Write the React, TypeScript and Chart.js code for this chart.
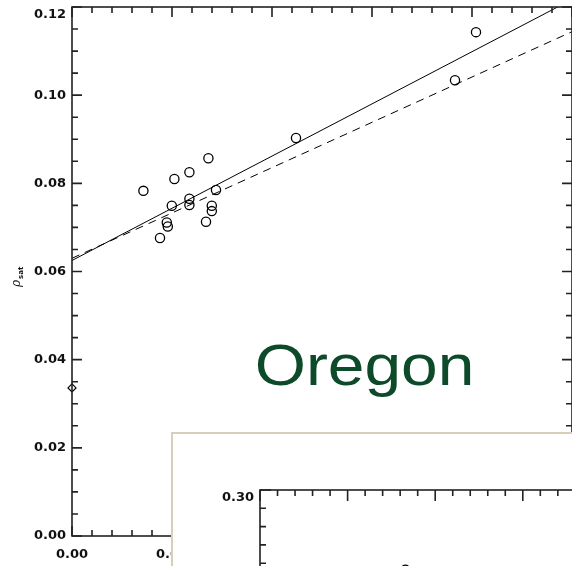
import React, { useEffect, useRef } from 'react';
import { Chart, registerables } from 'chart.js';

Chart.register(...registerables);

// ---- main panel data ----
const obsX = [0.0357, 0.0512, 0.0587, 0.0682, 0.0499, 0.0587, 0.0587, 0.0474, 0.0479, 0.044, 0.072, 0.0699, 0.0699, 0.067, 0.112, 0.1915, 0.202];
const obsY = [0.0783, 0.081, 0.0825, 0.0857, 0.0749, 0.0765, 0.0751, 0.0711, 0.0702, 0.0676, 0.0785, 0.0749, 0.0737, 0.0713, 0.0903, 0.1034, 0.1143];
const refX = [0.0];
const refY = [0.0336];
const solidFitX = [0.0, 0.25];
const solidFitY = [0.0625, 0.1217];
const dashedFitX = [0.0, 0.25];
const dashedFitY = [0.063, 0.1144];
const mainXTicks = { min: 0, max: 0.25, major: 0.05, minor: 0.01 };
const mainYTicks = { min: 0, max: 0.12, major: 0.02, minor: 0.005 };
const yTitleMain = 'ρ';
const yTitleSub = 'sat';
const stateLabel = 'Oregon';

// ---- inset panel data ----
const insetX = [0.083];
const insetY = [0.2568];
const insetXTicks = { min: 0, max: 0.25, major: 0.05, minor: 0.01 };
const insetYTicks = { min: 0, max: 0.3, major: 0.05, minor: 0.01 };

const tickFont = { family: '"DejaVu Sans", sans-serif', size: 13, weight: 'bold' as const };

const zip = (xs: number[], ys: number[]) => xs.map((x, i) => ({ x, y: ys[i] }));

function framePlugin(xt: any, yt: any, majorLen: number, minorLen: number) {
  return {
    id: 'frameTicks',
    afterDatasetsDraw(chart: any) {
      const { ctx, chartArea: a, scales } = chart;
      const xs = scales.x;
      const ys = scales.y;
      ctx.save();
      ctx.strokeStyle = '#222';
      ctx.lineWidth = 1.6;
      ctx.beginPath();
      const nx = Math.round((xt.max - xt.min) / xt.minor);
      const per = Math.round(xt.major / xt.minor);
      for (let i = 0; i <= nx; i++) {
        const v = xt.min + i * xt.minor;
        const px = xs.getPixelForValue(v);
        const len = i % per === 0 ? majorLen : minorLen;
        ctx.moveTo(px, a.bottom);
        ctx.lineTo(px, a.bottom - len);
        ctx.moveTo(px, a.top);
        ctx.lineTo(px, a.top + len);
      }
      const ny = Math.round((yt.max - yt.min) / yt.minor);
      const pery = Math.round(yt.major / yt.minor);
      for (let i = 0; i <= ny; i++) {
        const v = yt.min + i * yt.minor;
        const py = ys.getPixelForValue(v);
        const len = i % pery === 0 ? majorLen : minorLen;
        ctx.moveTo(a.left, py);
        ctx.lineTo(a.left + len, py);
        ctx.moveTo(a.right, py);
        ctx.lineTo(a.right - len, py);
      }
      ctx.stroke();
      ctx.strokeRect(a.left, a.top, a.right - a.left, a.bottom - a.top);
      ctx.restore();
    },
  };
}

const annotationPlugin = {
  id: 'annotations',
  afterDraw(chart: any) {
    const { ctx } = chart;
    ctx.save();
    // y-axis title (rotated, with subscript)
    ctx.translate(20, 287);
    ctx.rotate(-Math.PI / 2);
    ctx.fillStyle = '#111';
    ctx.textBaseline = 'alphabetic';
    ctx.textAlign = 'left';
    ctx.font = 'italic 12px "DejaVu Serif", serif';
    ctx.fillText(yTitleMain, 0, 0);
    const w = ctx.measureText(yTitleMain).width;
    ctx.font = 'bold 7px "DejaVu Sans", sans-serif';
    ctx.fillText(yTitleSub, w + 1, 3);
    ctx.restore();

    // big state label
    ctx.save();
    ctx.font = '57px "Liberation Sans", Arial, sans-serif';
    ctx.fillStyle = '#0c4a2a';
    ctx.textBaseline = 'alphabetic';
    ctx.textAlign = 'left';
    const m = ctx.measureText(stateLabel);
    const ink = m.actualBoundingBoxLeft + m.actualBoundingBoxRight;
    const targetLeft = 257;
    const targetRight = 470;
    const sx = (targetRight - targetLeft) / ink;
    ctx.translate(targetLeft, 385);
    ctx.scale(sx, 1);
    ctx.fillText(stateLabel, m.actualBoundingBoxLeft, 0);
    ctx.restore();
  },
};

function makeScales(xt: any, yt: any, leftW: number, firstYTop: boolean) {
  return {
    x: {
      type: 'linear',
      min: xt.min,
      max: xt.max,
      grid: { display: false, drawTicks: false },
      border: { display: false },
      ticks: {
        stepSize: xt.major,
        padding: 11,
        color: '#111',
        font: tickFont,
        maxRotation: 0,
        autoSkip: false,
        callback: (v: number) => Number(v).toFixed(2),
      },
      afterFit: (s: any) => {
        s.height = 30;
        s.paddingLeft = 0;
        s.paddingRight = 0;
      },
    },
    y: {
      type: 'linear',
      min: yt.min,
      max: yt.max,
      grid: { display: false, drawTicks: false },
      border: { display: false },
      ticks: {
        stepSize: yt.major,
        padding: 6,
        color: '#111',
        font: tickFont,
        autoSkip: false,
        callback: (v: number, i: number, ticks: any[]) => {
          const s = Number(v).toFixed(2);
          return firstYTop && i === ticks.length - 1 ? ['', s] : s;
        },
      },
      afterFit: (s: any) => {
        s.width = leftW;
        s.paddingTop = 0;
        s.paddingBottom = 0;
      },
    },
  };
}

export default function App() {
  const mainRef = useRef<HTMLCanvasElement>(null);
  const insetRef = useRef<HTMLCanvasElement>(null);

  useEffect(() => {
    const main = new Chart(mainRef.current as HTMLCanvasElement, {
      type: 'scatter',
      data: {
        datasets: [
          {
            data: zip(solidFitX, solidFitY),
            showLine: true,
            borderColor: '#000',
            borderWidth: 1,
            pointRadius: 0,
          },
          {
            data: zip(dashedFitX, dashedFitY),
            showLine: true,
            borderColor: '#000',
            borderWidth: 1,
            borderDash: [8, 6],
            pointRadius: 0,
          },
          {
            data: zip(obsX, obsY),
            showLine: false,
            pointStyle: 'circle',
            pointRadius: 4.6,
            pointBorderWidth: 1.3,
            pointBorderColor: '#000',
            pointBackgroundColor: 'rgba(0,0,0,0)',
            clip: false,
          },
          {
            data: zip(refX, refY),
            showLine: false,
            pointStyle: 'rectRot',
            pointRadius: 4,
            pointBorderWidth: 1.2,
            pointBorderColor: '#000',
            pointBackgroundColor: 'rgba(0,0,0,0)',
            clip: false,
          },
        ],
      },
      options: {
        responsive: false,
        animation: false,
        devicePixelRatio: 1,
        layout: { autoPadding: false, padding: { top: 7, left: 0, right: 0, bottom: 0 } },
        plugins: { legend: { display: false }, tooltip: { enabled: false } },
        scales: makeScales(mainXTicks, mainYTicks, 72, true) as any,
      },
      plugins: [framePlugin(mainXTicks, mainYTicks, 10, 6), annotationPlugin],
    } as any);

    const inset = new Chart(insetRef.current as HTMLCanvasElement, {
      type: 'scatter',
      data: {
        datasets: [
          {
            data: zip(insetX, insetY),
            showLine: false,
            pointStyle: 'circle',
            pointRadius: 4,
            pointBorderWidth: 1.3,
            pointBorderColor: '#000',
            pointBackgroundColor: 'rgba(0,0,0,0)',
          },
        ],
      },
      options: {
        responsive: false,
        animation: false,
        devicePixelRatio: 1,
        layout: { autoPadding: false, padding: { top: 56, left: 0, right: 0, bottom: 0 } },
        plugins: { legend: { display: false }, tooltip: { enabled: false } },
        scales: makeScales(insetXTicks, insetYTicks, 87, true) as any,
      },
      plugins: [framePlugin(insetXTicks, insetYTicks, 11, 6)],
    } as any);

    return () => {
      main.destroy();
      inset.destroy();
    };
  }, []);

  return (
    <div
      style={{
        position: 'fixed',
        left: 0,
        top: 0,
        width: 572,
        height: 566,
        overflow: 'hidden',
        background: '#fff',
      }}
    >
      <canvas ref={mainRef} width={572} height={566} style={{ position: 'absolute', left: 0, top: 0 }} />
      <div
        style={{
          position: 'absolute',
          left: 171,
          top: 432,
          width: 600,
          height: 400,
          border: '2px solid #d8cfba',
          background: '#fff',
          overflow: 'hidden',
        }}
      >
        <canvas ref={insetRef} width={525} height={635} style={{ position: 'absolute', left: 0, top: 0 }} />
      </div>
    </div>
  );
}
